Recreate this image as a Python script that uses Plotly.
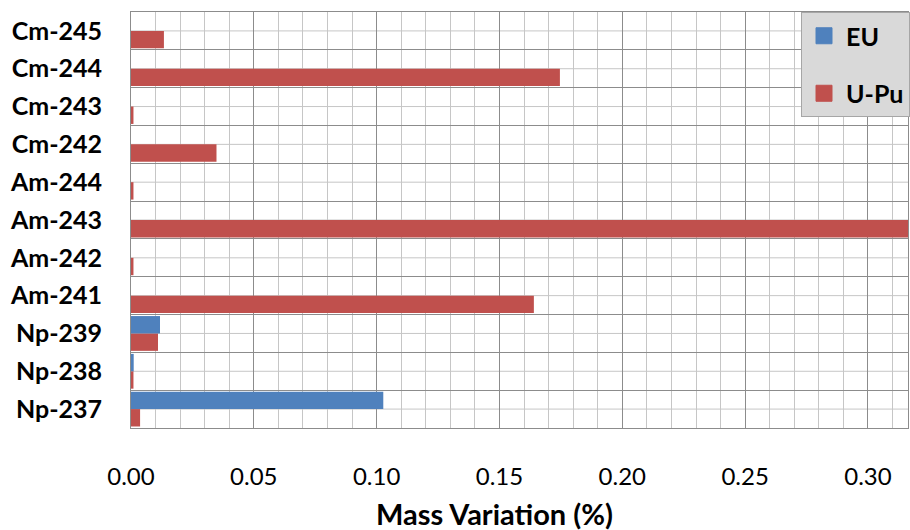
import plotly.graph_objects as go

# Nuclides, bottom to top
nuclides = ["Np-237", "Np-238", "Np-239", "Am-241", "Am-242", "Am-243",
            "Am-244", "Cm-242", "Cm-243", "Cm-244", "Cm-245"]

# Mass variation (%) per fuel type
eu_values = [0.1027, 0.0011, 0.0118, 0.0, 0.0, 0.0, 0.0, 0.0, 0.0, 0.0, 0.0]
upu_values = [0.0037, 0.0010, 0.0110, 0.1640, 0.0010, 0.3300, 0.0010,
              0.0348, 0.0010, 0.1746, 0.0134]

series_names = ["EU", "U-Pu"]
series_colors = ["#4F81BD", "#C0504D"]

x_ticks = [0.00, 0.05, 0.10, 0.15, 0.20, 0.25, 0.30]
x_title = "Mass Variation (%)"

FONT = "Lato"
MAJOR_GRID = "#8c8c8c"
MINOR_GRID = "#c6c6c6"

fig = go.Figure()

# U-Pu added first so that EU sits on top inside each group
fig.add_trace(go.Bar(
    y=nuclides, x=upu_values, orientation="h", name=series_names[1],
    marker=dict(color=series_colors[1], line=dict(width=0)), showlegend=False,
))
fig.add_trace(go.Bar(
    y=nuclides, x=eu_values, orientation="h", name=series_names[0],
    marker=dict(color=series_colors[0], line=dict(width=0)), showlegend=False,
))

# Legend entries with larger square swatches
for i, (name, color) in enumerate(zip(series_names, series_colors)):
    fig.add_trace(go.Scatter(
        x=[None], y=[None], mode="markers", name=name,
        marker=dict(symbol="square", size=16, color=color,
                    line=dict(width=1, color=color)),
        legendgroup=name, legendrank=i + 1, showlegend=True,
    ))

# Light guide line through the middle of every category band
center_lines = [
    dict(type="line", xref="paper", x0=0, x1=1, yref="y", y0=n, y1=n,
         line=dict(color=MINOR_GRID, width=1), layer="below")
    for n in nuclides
]

fig.update_layout(
    width=910, height=530,
    margin=dict(l=131, r=0, t=12, b=102),
    paper_bgcolor="white", plot_bgcolor="white",
    barmode="group", bargap=0.08, bargroupgap=0.0,
    font=dict(family=FONT, color="black"),
    shapes=center_lines,
    xaxis=dict(
        range=[0, 0.3163], tickvals=x_ticks, tickformat=".2f",
        tickfont=dict(size=24, family=FONT),
        ticks="", ticklabelstandoff=27,
        showgrid=True, gridcolor=MAJOR_GRID, gridwidth=1,
        minor=dict(dtick=0.01, tick0=0, showgrid=True,
                   gridcolor=MINOR_GRID, gridwidth=1),
        zeroline=False,
        showline=True, linecolor=MAJOR_GRID, linewidth=1, mirror=True,
        fixedrange=True,
    ),
    yaxis=dict(
        type="category", categoryorder="array", categoryarray=nuclides,
        tickfont=dict(size=25, family=FONT, weight="bold"),
        ticks="", ticklabelstandoff=23, tickson="boundaries",
        showgrid=True, gridcolor=MAJOR_GRID, gridwidth=1,
        zeroline=False,
        showline=True, linecolor=MAJOR_GRID, linewidth=1, mirror=True,
        fixedrange=True,
    ),
    annotations=[dict(
        text="<b>" + x_title + "</b>", xref="paper", yref="paper",
        x=0.468, y=-0.205, xanchor="center", yanchor="middle",
        showarrow=False, font=dict(size=29, family=FONT, color="black"),
    )],
    legend=dict(
        x=0.8627, xanchor="left", y=1.0, yanchor="top",
        bgcolor="#d9d9d9", bordercolor="#a6a6a6", borderwidth=1,
        font=dict(size=25, family=FONT, weight="bold", color="black"),
        traceorder="grouped", tracegroupgap=22,
        itemwidth=34,
    ),
)

fig.write_html("out.html")
